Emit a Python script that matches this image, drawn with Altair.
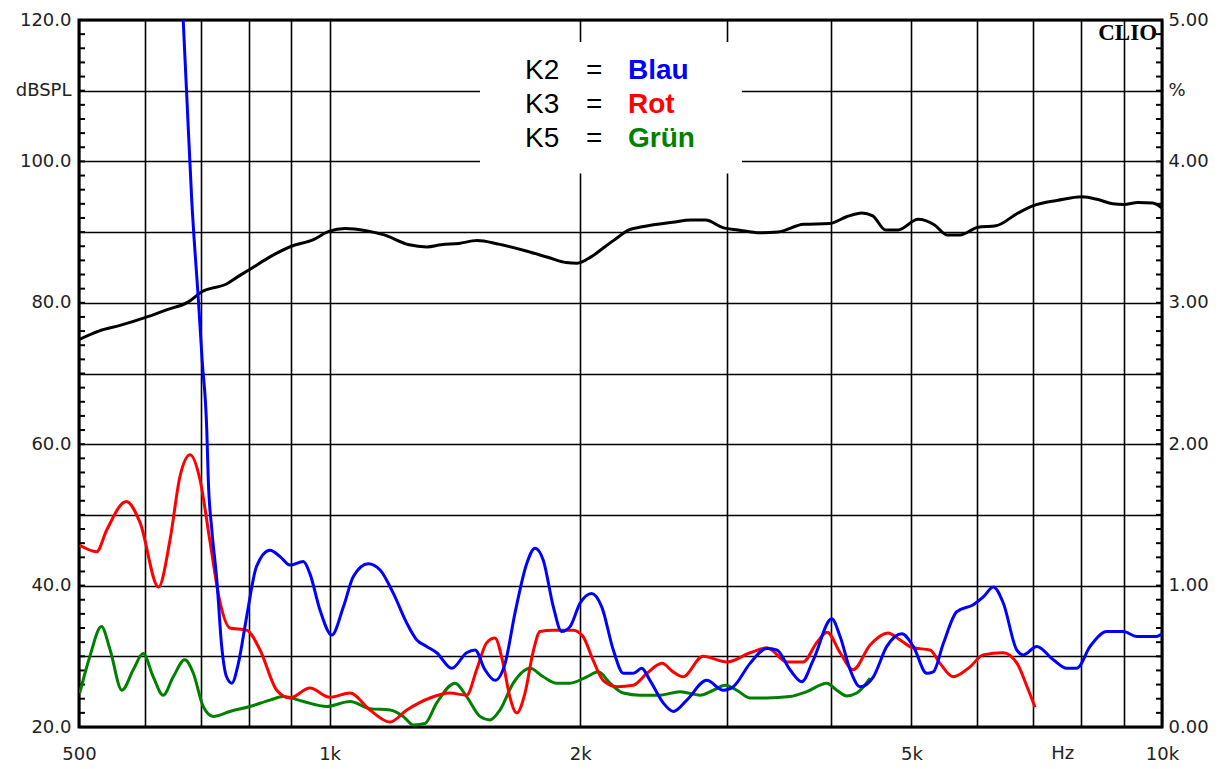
import altair as alt
import pandas as pd

# ---------------- data ----------------
black_f = [500, 528, 560, 600, 637, 676, 703, 753, 776, 799, 848, 900, 955, 998, 1044, 1106, 1163, 1246, 1309, 1361,
           1430, 1503, 1596, 1727, 1833, 1923, 1983, 2061, 2146, 2199, 2289, 2384, 2584, 2718, 2829, 2974, 3095, 3289,
           3457, 3711, 3982, 4185, 4360, 4493, 4655, 4819, 5092, 5330, 5518, 5720, 6012, 6319, 6715, 6994, 7501, 8012,
           8379, 8727, 8995, 9359, 9748, 10000]
black_db = [74.8, 76.0, 76.8, 77.9, 79.0, 80.1, 81.6, 82.7, 83.7, 84.6, 86.5, 88.0, 88.9, 90.1, 90.5, 90.2, 89.6, 88.2,
            87.9, 88.2, 88.4, 88.8, 88.3, 87.3, 86.4, 85.7, 85.6, 86.5, 88.0, 88.9, 90.3, 90.8, 91.4, 91.7, 91.7, 90.6,
            90.3, 89.9, 90.0, 91.1, 91.2, 92.2, 92.7, 92.3, 90.3, 90.3, 91.8, 91.0, 89.6, 89.6, 90.7, 90.9, 92.7, 93.7,
            94.5, 95.0, 94.6, 94.0, 93.9, 94.2, 94.1, 93.4]

blue_f = [667, 674, 683, 696, 703, 712, 715, 722, 732, 742, 752, 763, 777, 795, 817, 848, 872, 896, 930, 947, 974, 1006,
          1039, 1068, 1113, 1150, 1193, 1238, 1273, 1308, 1345, 1402, 1461, 1495, 1537, 1580, 1625, 1670, 1725, 1765,
          1806, 1857, 1900, 1945, 1999, 2065, 2123, 2192, 2254, 2317, 2371, 2426, 2517, 2588, 2686, 2838, 2972, 3055,
          3200, 3351, 3445, 3574, 3692, 3812, 4011, 4105, 4220, 4338, 4501, 4671, 4869, 5026, 5216, 5312, 5461, 5668,
          5934, 6101, 6272, 6448, 6691, 6815, 7072, 7404, 7684, 7900, 8196, 8584, 8987, 9325, 9856, 10000]
blue_db = [120.0, 108.7, 94.5, 80.0, 71.8, 62.0, 54.9, 47.9, 40.8, 31.4, 27.1, 26.2, 29.0, 35.6, 42.7, 45.0, 44.1, 42.9,
           43.4, 41.7, 36.5, 33.0, 37.0, 41.3, 43.1, 42.2, 38.9, 34.7, 32.3, 31.4, 30.5, 28.3, 30.5, 30.9, 28.1, 26.6,
           29.0, 36.1, 43.1, 45.3, 43.6, 37.0, 33.5, 34.2, 37.5, 38.9, 37.0, 30.9, 27.6, 27.6, 28.3, 26.6, 23.4, 22.2,
           23.8, 26.6, 25.2, 25.7, 29.0, 31.1, 30.9, 28.1, 26.4, 29.5, 35.3, 32.8, 28.1, 25.7, 27.1, 31.4, 33.2, 31.4,
           27.6, 27.8, 31.8, 36.3, 37.3, 38.4, 39.8, 37.5, 30.9, 30.2, 31.4, 29.5, 28.3, 28.3, 31.4, 33.5, 33.5, 32.8,
           32.8, 33.2]

red_f = [501, 525, 540, 570, 592, 623, 643, 661, 680, 699, 718, 739, 759, 795, 825, 864, 896, 947, 1001, 1058, 1118,
         1182, 1238, 1320, 1395, 1461, 1502, 1544, 1580, 1616, 1647, 1678, 1717, 1755, 1790, 1855, 1961, 2016, 2072,
         2131, 2215, 2315, 2406, 2508, 2586, 2658, 2809, 3002, 3200, 3354, 3545, 3705, 3851, 3960, 4105, 4255, 4460,
         4687, 4846, 5022, 5264, 5412, 5610, 5880, 6096, 6443, 6697, 6885, 7039]
red_db = [45.7, 44.8, 47.9, 51.9, 48.9, 39.8, 46.4, 55.4, 58.5, 54.9, 46.4, 37.5, 34.0, 33.7, 30.9, 25.2, 24.1, 25.5,
          24.2, 24.8, 22.4, 20.7, 22.4, 24.1, 24.8, 24.5, 28.1, 31.9, 32.6, 29.0, 24.2, 22.0, 24.8, 30.5, 33.5, 33.7,
          33.7, 32.8, 29.5, 26.6, 25.7, 25.9, 27.6, 29.0, 27.8, 27.1, 30.0, 29.2, 30.5, 31.2, 29.2, 29.2, 32.0, 33.4,
          30.5, 28.1, 31.6, 33.3, 32.3, 31.2, 30.9, 29.0, 27.1, 28.5, 30.2, 30.5, 29.0, 25.7, 22.8]

green_f = [501, 515, 532, 545, 563, 581, 597, 614, 631, 649, 670, 686, 705, 725, 759, 802, 848, 880, 930, 992, 1058,
           1118, 1182, 1226, 1261, 1302, 1345, 1415, 1461, 1516, 1559, 1602, 1662, 1741, 1806, 1874, 1945, 2037, 2103,
           2172, 2254, 2360, 2494, 2636, 2786, 2891, 2986, 3084, 3200, 3351, 3574, 3743, 3956, 4067, 4181, 4299, 4460]
green_db = [24.8, 29.9, 34.2, 30.9, 25.2, 28.1, 30.4, 27.1, 24.5, 27.1, 29.5, 27.6, 22.9, 21.5, 22.2, 22.9, 23.8, 24.3,
            23.6, 22.9, 23.6, 22.6, 22.4, 21.5, 20.3, 20.5, 23.4, 26.2, 24.3, 21.5, 21.0, 22.4, 26.2, 28.3, 27.1, 26.2,
            26.2, 27.1, 27.8, 26.2, 24.8, 24.5, 24.5, 25.0, 24.5, 25.2, 25.9, 25.2, 24.1, 24.1, 24.3, 25.0, 26.2, 25.2,
            24.4, 24.8, 26.9]

freq_ticks = [500, 600, 700, 800, 900, 1000, 2000, 3000, 4000, 5000, 6000, 7000, 8000, 9000, 10000]
freq_labels = {500: "500", 1000: "1k", 2000: "2k", 5000: "5k", 10000: "10k"}
hz_label_f = [7600]
db_grid = [20, 30, 40, 50, 60, 70, 80, 90, 100, 110, 120]
db_labels = {20: "20.0", 40: "40.0", 60: "60.0", 80: "80.0", 100: "100.0", 110: "dBSPL", 120: "120.0"}
pct_labels = {20: "0.00", 40: "1.00", 60: "2.00", 80: "3.00", 100: "4.00", 110: "%", 120: "5.00"}
minor_ticks = list(range(20, 121, 2))

legend_keys = ["K2", "K3", "K5"]
legend_names = ["Blau", "Rot", "Grün"]
legend_colors = ["#0000ff", "#ff0000", "#008000"]
legend_db = [111.6, 106.8, 102.0]
legend_key_f, legend_eq_f, legend_name_f = 1717, 2033, 2283
legend_box = {"f1": 1516, "f2": 3129, "db1": 98.3, "db2": 116.9}
clio_pos = {"f": 9864, "db": 117.2}

# ---------------- chart ----------------
W, H = 1083, 707
FONT = "DejaVu Sans"


def label_expr(mapping):
    parts = [f"datum.value == {k} ? '{v}'" for k, v in mapping.items()]
    return " : ".join(parts) + " : ''"


x_scale = alt.Scale(type="log", domain=[500, 10000], nice=False)
y_scale = alt.Scale(domain=[20, 120], nice=False, zero=False)

x_axis = alt.Axis(values=freq_ticks, labelExpr=label_expr(freq_labels), grid=True, gridColor="#000000",
                  gridWidth=1.6, ticks=False, tickSize=0, domain=False, labelFont=FONT, labelFontSize=18,
                  labelColor="#222222", labelPadding=18, title=None, labelFlush=False, labelOverlap=False)
y_axis_left = alt.Axis(orient="left", values=db_grid, labelExpr=label_expr(db_labels), grid=True,
                       gridColor="#000000", gridWidth=1.6, ticks=False, tickSize=0, domain=False, labelFont=FONT,
                       labelFontSize=18, labelColor="#222222", labelPadding=8, title=None, labelFlush=False,
                       labelOverlap=False)
y_axis_right = alt.Axis(orient="right", values=db_grid, labelExpr=label_expr(pct_labels), grid=False,
                        ticks=False, tickSize=0, domain=False, labelFont=FONT, labelFontSize=18,
                        labelColor="#222222", labelPadding=6, title=None, labelFlush=False, labelOverlap=False)


def X(field):
    return alt.X(field, scale=x_scale, axis=x_axis)


def series(f, v):
    return pd.DataFrame({"freq": f, "db": v})


black_layer = alt.Chart(series(black_f, black_db)).mark_line(
    color="#000000", strokeWidth=3, clip=True, interpolate="monotone").encode(
    x=X("freq:Q"),
    y=alt.Y("db:Q", scale=y_scale, axis=y_axis_left),
)


def curve(f, v, color):
    return alt.Chart(series(f, v)).mark_line(color=color, strokeWidth=3, clip=True, interpolate="monotone").encode(
        x=X("freq:Q"),
        y=alt.Y("db:Q", scale=y_scale, axis=None),
    )


green_layer = curve(green_f, green_db, "#008000")
red_layer = curve(red_f, red_db, "#ff0000")
blue_layer = curve(blue_f, blue_db, "#0000ff")

ticks_df = pd.DataFrame({"db": minor_ticks})
left_ticks = alt.Chart(ticks_df).mark_rule(color="#000000", strokeWidth=2).encode(
    y=alt.Y("db:Q", scale=y_scale, axis=None), x=alt.value(0), x2=alt.value(6))
right_ticks = alt.Chart(ticks_df).mark_rule(color="#000000", strokeWidth=2).encode(
    y=alt.Y("db:Q", scale=y_scale, axis=y_axis_right), x=alt.value(W - 6), x2=alt.value(W))

box_df = pd.DataFrame([legend_box])
box = alt.Chart(box_df).mark_rect(color="#ffffff").encode(
    x=X("f1:Q"), x2="f2:Q",
    y=alt.Y("db1:Q", scale=y_scale, axis=None), y2="db2:Q")

leg_df = pd.DataFrame({
    "key": legend_keys, "name": legend_names, "color": legend_colors, "db": legend_db,
    "fk": [legend_key_f] * 3, "fe": [legend_eq_f] * 3, "fn": [legend_name_f] * 3, "eq": ["="] * 3,
})
leg_keys = alt.Chart(leg_df).mark_text(font="Liberation Sans", fontSize=28, align="left", baseline="alphabetic",
                                       color="#000000").encode(
    x=X("fk:Q"), y=alt.Y("db:Q", scale=y_scale, axis=None), text="key:N")
leg_eq = alt.Chart(leg_df).mark_text(font="Liberation Sans", fontSize=28, align="left", baseline="alphabetic",
                                     color="#000000").encode(
    x=X("fe:Q"), y=alt.Y("db:Q", scale=y_scale, axis=None), text="eq:N")
leg_names = alt.Chart(leg_df).mark_text(font="Liberation Sans", fontSize=28, fontWeight="bold", align="left",
                                        baseline="alphabetic").encode(
    x=X("fn:Q"), y=alt.Y("db:Q", scale=y_scale, axis=None), text="name:N",
    color=alt.Color("color:N", scale=None))

clio_df = pd.DataFrame({"f": [clio_pos["f"]], "db": [clio_pos["db"]], "t": ["CLIO"]})
clio = alt.Chart(clio_df).mark_text(font="Liberation Serif", fontSize=23, fontWeight="bold", align="right",
                                    baseline="alphabetic", color="#000000").encode(
    x=X("f:Q"), y=alt.Y("db:Q", scale=y_scale, axis=None), text="t:N")

hz_df = pd.DataFrame({"f": hz_label_f, "t": ["Hz"]})
hz = alt.Chart(hz_df).mark_text(font=FONT, fontSize=18, align="center", baseline="top", color="#222222").encode(
    x=X("f:Q"), y=alt.value(H + 18), text="t:N")

chart = alt.layer(
    black_layer, box, left_ticks, green_layer, red_layer, blue_layer, right_ticks,
    leg_keys, leg_eq, leg_names, clio, hz,
).resolve_axis(y="independent").properties(
    width=W, height=H,
    autosize=alt.AutoSizeParams(type="none"),
    padding={"left": 79, "top": 20, "right": 1221 - 79 - W, "bottom": 769 - 20 - H},
    background="#ffffff",
).configure_view(stroke="#000000", strokeWidth=3)

chart.save("out.html", embed_options={"renderer": "svg", "actions": False})
